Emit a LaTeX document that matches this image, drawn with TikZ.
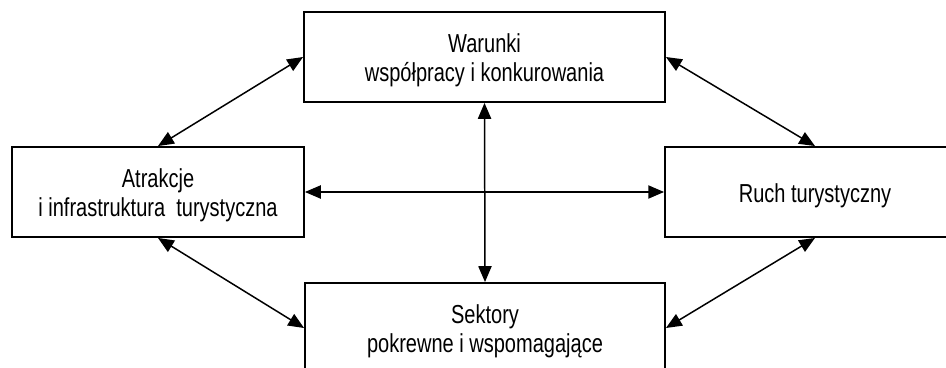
\documentclass[tikz,border=0pt]{standalone}
\usepackage{fontspec}
\setmainfont[FakeStretch=0.77]{Liberation Sans}
\usepackage{tikz}
\usetikzlibrary{arrows.meta}

\begin{document}
\begin{tikzpicture}[x=0.02cm, y=-0.02cm,
    blok/.style={draw, line width=1.1pt, minimum height=1.8cm, align=center,
        font=\fontsize{14.8}{16.5}\selectfont},
    blokdwa/.style={blok, text height=30.5pt},
    strz/.style={{Triangle[length=9pt,width=7.5pt]}-{Triangle[length=9pt,width=7.5pt]}, line width=0.85pt}]
    \useasboundingbox (0,0) rectangle (946,368);
    \clip (0,0) rectangle (946,368);
    \node[blokdwa, minimum width=7.22cm] (warunki) at (484.5,57) {Warunki\\współpracy i konkurowania};
    \node[blokdwa, minimum width=5.84cm] (atrakcje) at (158,192) {Atrakcje\\i infrastruktura~ turystyczna};
    \node[blok, minimum width=6cm, text height=15.5pt] (ruch) at (815,192) {Ruch turystyczny};
    \node[blokdwa, minimum width=7.2cm] (sektory) at (485,328) {Sektory\\pokrewne i wspomagające};
    \draw[strz] (atrakcje.north) -- (warunki.west);
    \draw[strz] (warunki.east) -- (ruch.north);
    \draw[strz] (atrakcje.south) -- (sektory.west);
    \draw[strz] (ruch.south) -- (sektory.east);
    \draw[strz] (warunki.south) -- (sektory.north);
    \draw[strz] (atrakcje.east) -- (ruch.west);
\end{tikzpicture}
\end{document}
